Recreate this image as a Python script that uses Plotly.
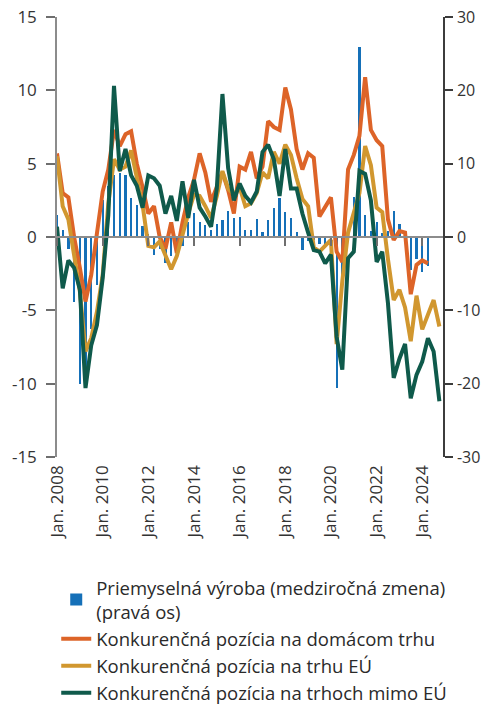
import pandas as pd
import plotly.graph_objects as go

# Quarterly observations starting 2008 Q1
quarters = pd.date_range("2008-01-01", periods=68, freq="QS")

industrial_production = [
    3.0, 1.0, -1.7, -8.8, -20.1, -18.0, -12.5, -6.5, 5.1, 7.0,
    8.5, 8.7, 8.5, 5.3, 4.4, 1.5, 0.4, -2.4, -1.7, -3.5,
    -2.6, -1.8, -1.2, 2.1, 3.3, 2.0, 1.6, 1.0, 1.8, 2.3,
    3.5, 2.6, 2.7, 0.9, 1.0, 2.5, 0.7, 2.3, 4.0, 5.3,
    3.4, 2.6, 0.7, -1.8, -0.6, -0.4, -1.0, -1.1, -0.4, -20.6,
    -6.1, -0.5, 5.5, 25.9, 3.0, 0.8, 2.0, 0.6, 0.8, 3.5,
    1.8, 0.4, -4.5, -3.0, -4.8, -4.0,
]

domestic = [
    5.7, 3.0, 2.7, 0.0, -2.1, -4.4, -2.6, 0.3, 3.1, 4.6,
    7.3, 6.2, 7.0, 7.2, 5.0, 3.4, 1.6, 2.1, 0.0, -0.8,
    1.0, -1.1, 1.0, 2.7, 3.9, 5.7, 4.4, 2.4, 3.4, 4.4,
    3.2, 1.6, 4.8, 4.6, 5.8, 4.0, 4.8, 7.9, 7.5, 7.3,
    10.2, 8.7, 6.0, 4.6, 5.7, 5.4, 1.4, 2.0, 2.7, -1.0,
    -1.7, 4.6, 5.6, 6.9, 10.9, 7.3, 6.6, 6.2, 1.2, -0.2,
    0.4, 0.3, -3.9, -1.9, -1.6, -1.8,
]

eu_market = [
    5.5, 2.1, 1.2, -1.2, -3.7, -7.8, -6.9, -5.1, -2.6, 2.3,
    5.3, 4.6, 4.8, 5.9, 4.0, 2.2, -0.6, -0.7, -0.3, -1.3,
    -2.2, -1.3, 0.2, 1.6, 2.9, 2.8, 2.1, 1.3, 2.8, 4.5,
    3.3, 2.9, 3.4, 2.1, 2.3, 3.0, 4.4, 4.0, 5.8, 5.0,
    6.3, 5.6, 4.0, 2.6, 2.1, -0.7, -1.0, -0.6, -0.2, -7.3,
    -3.0, 0.3, 1.6, 3.0, 6.2, 4.9, 2.0, 1.7, -1.5, -4.3,
    -3.6, -4.8, -7.1, -4.0, -6.3, -5.3, -4.3, -6.1,
]

non_eu = [
    0.7, -3.5, -1.6, -2.1, -3.6, -10.3, -7.4, -6.0, -2.8, 1.5,
    10.3, 4.5, 6.0, 4.2, 3.5, 2.0, 4.2, 4.0, 3.5, 1.6,
    2.8, 1.1, 3.8, 1.3, 3.9, 2.0, 1.4, 0.7, 3.3, 9.75,
    4.7, 2.5, 3.65, 2.8, 2.35, 3.1, 5.8, 6.3, 5.3, 2.8,
    6.0, 3.3, 3.3, 1.6, 0.3, -0.9, -1.0, -1.8, -1.2, -6.8,
    -9.05, -1.45, -1.0, 4.5, 4.3, 2.5, -1.7, -1.0, -4.5, -9.6,
    -8.3, -7.3, -11.0, -9.4, -8.5, -6.9, -7.8, -11.2,
]

tick_dates = [f"{y}-01-01" for y in range(2008, 2025, 2)]
tick_labels = [f"Jan. {y}" for y in range(2008, 2025, 2)]
left_ticks = [-15, -10, -5, 0, 5, 10, 15]
left_labels = ["-15", "-10", "-5", "0", "5", "10", "15"]
right_ticks = [-30, -20, -10, 0, 10, 20, 30]
right_labels = ["-30", "-20", "-10", "0", "10", "20", "30"]

names = [
    "Priemyselná výroba (medziročná zmena)<br>(pravá os)",
    "Konkurenčná pozícia na domácom trhu",
    "Konkurenčná pozícia na trhu EÚ",
    "Konkurenčná pozícia na trhoch mimo EÚ",
]

BLUE = "#1570B8"
ORANGE = "#DD6428"
GOLD = "#D1972F"
GREEN = "#0F5A4B"

x_range = ["2008-01-01", "2024-11-28"]
FONT = "Open Sans"

# the page body adds an 8px margin; height is kept short enough that the
# page does not scroll
FIG_W, FIG_H = 481, 699

fig = go.Figure()
fig.add_trace(go.Bar(
    x=quarters[:len(industrial_production)], y=industrial_production,
    name=names[0], marker=dict(color=BLUE, line=dict(width=0)),
    width=36 * 86400000, xaxis="x", yaxis="y",
))
fig.add_trace(go.Scatter(
    x=quarters[:len(domestic)], y=domestic, name=names[1], mode="lines",
    line=dict(color=ORANGE, width=4), xaxis="x", yaxis="y2",
))
fig.add_trace(go.Scatter(
    x=quarters[:len(eu_market)], y=eu_market, name=names[2], mode="lines",
    line=dict(color=GOLD, width=4), xaxis="x", yaxis="y2",
))
fig.add_trace(go.Scatter(
    x=quarters[:len(non_eu)], y=non_eu, name=names[3], mode="lines",
    line=dict(color=GREEN, width=4), xaxis="x", yaxis="y2",
))
# empty helper trace so the label-only bottom date axis is rendered
fig.add_trace(go.Scatter(
    x=[], y=[], xaxis="x2", yaxis="y2", showlegend=False, hoverinfo="skip",
))

fig.update_layout(
    width=FIG_W, height=FIG_H,
    margin=dict(l=49, r=46, t=9, b=250, autoexpand=False),
    paper_bgcolor="white", plot_bgcolor="white",
    font=dict(family=FONT, size=17, color="#333333"),
    showlegend=True,
    bargap=0,
    legend=dict(
        x=-0.002, xref="paper", y=1 - 561 / FIG_H, yref="container",
        xanchor="left", yanchor="top",
        font=dict(family=FONT, size=18.5, color="#2a2a2a"),
        bgcolor="rgba(0,0,0,0)", traceorder="normal",
    ),
    xaxis=dict(
        type="date", range=x_range, anchor="free", position=0.5,
        showline=True, linecolor="#8c8c8c", linewidth=1.5,
        ticks="outside", ticklen=8, tickwidth=1.5, tickcolor="#6e6e6e",
        tickvals=tick_dates, showticklabels=False,
        showgrid=False, zeroline=False, automargin=False,
    ),
    xaxis2=dict(
        type="date", range=x_range, overlaying="x", anchor="y", side="bottom",
        showline=False, ticks="", tickvals=tick_dates, ticktext=tick_labels,
        tickangle=-90, showgrid=False, zeroline=False, automargin=False,
        tickfont=dict(family=FONT, size=17, color="#333333"),
        ticklabelstandoff=4, ticklabeloverflow="allow",
    ),
    yaxis=dict(
        range=[-30, 30], tickvals=right_ticks, ticktext=right_labels,
        side="right", anchor="x",
        showline=True, linecolor="#3c3c3c", linewidth=1.5,
        ticks="outside", ticklen=8, tickwidth=1.5, tickcolor="#3c3c3c",
        showgrid=False, zeroline=False, automargin=False,
        tickfont=dict(family=FONT, size=16, color="#333333"),
        ticklabelstandoff=1, ticklabeloverflow="allow",
    ),
    yaxis2=dict(
        range=[-15, 15], tickvals=left_ticks, ticktext=left_labels,
        side="left", overlaying="y", anchor="x",
        showline=True, linecolor="#8c8c8c", linewidth=1.5,
        ticks="outside", ticklen=9, tickwidth=1.5, tickcolor="#6e6e6e",
        showgrid=False, zeroline=False, automargin=False,
        tickfont=dict(family=FONT, size=17, color="#333333"),
        ticklabelstandoff=6, ticklabeloverflow="allow",
    ),
)

fig.write_html("out.html")
